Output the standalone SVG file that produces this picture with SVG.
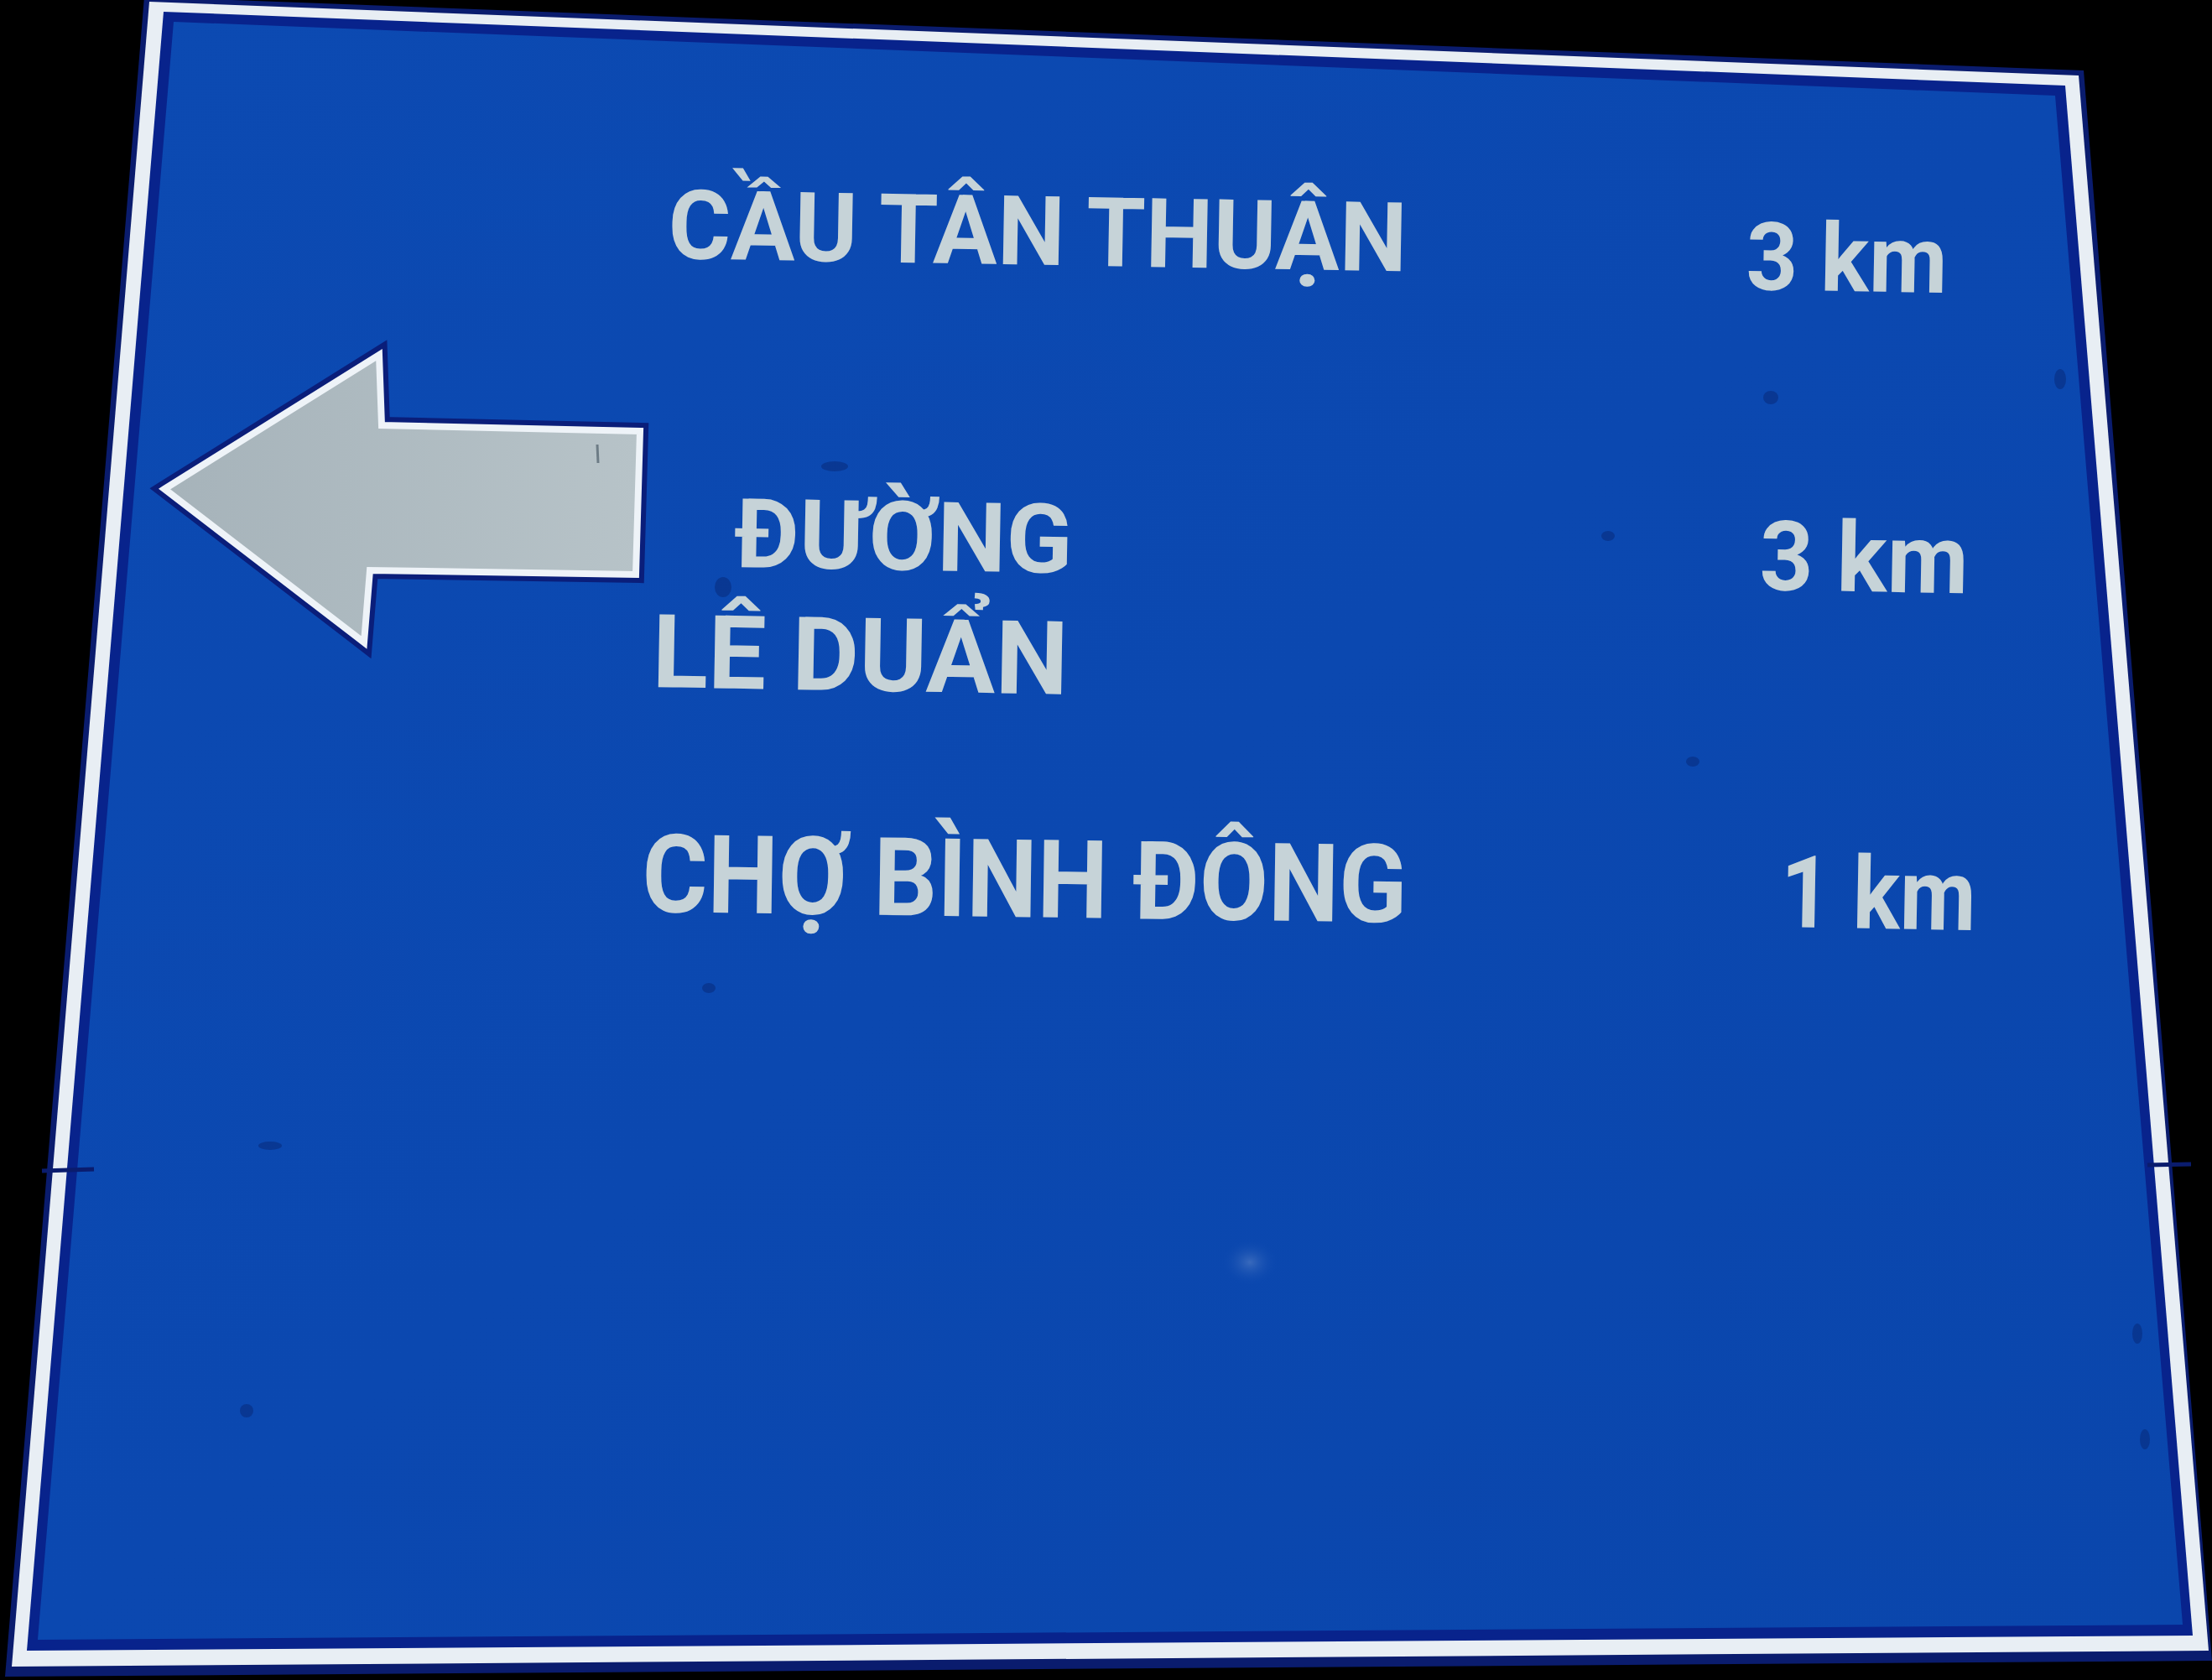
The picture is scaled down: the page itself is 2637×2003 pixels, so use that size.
<svg xmlns="http://www.w3.org/2000/svg" width="2637" height="2003" viewBox="0 0 2637 2003">
  <defs>
    <style>
      .lbl { font-family: Roboto, "Liberation Sans", "Noto Sans", sans-serif; font-weight: 700; fill: #c6d3d8; }
      .mark { fill: #06236e; opacity: 0.45; }
    </style>
    <linearGradient id="arrowFill" x1="0" y1="0" x2="1" y2="0">
      <stop offset="0" stop-color="#a6b3ba"/>
      <stop offset="1" stop-color="#b7c3c8"/>
    </linearGradient>
    <linearGradient id="field" x1="0" y1="0" x2="1" y2="1">
      <stop offset="0" stop-color="#0c4ab2"/>
      <stop offset="0.5" stop-color="#0b48b0"/>
      <stop offset="1" stop-color="#0a46ac"/>
    </linearGradient>
    <radialGradient id="glare" cx="0.5" cy="0.5" r="0.5">
      <stop offset="0" stop-color="#5f86c8" stop-opacity="0.55"/>
      <stop offset="1" stop-color="#0b48b0" stop-opacity="0"/>
    </radialGradient>
  </defs>

  <rect x="0" y="0" width="2637" height="2003" fill="#000000"/>

  <g id="sign-frame">
    <polygon points="172,-4 2484,84 2637,1980 6,1999" fill="#0a1c6e"/>
    <polygon points="178,2 2478,90 2633,1968 14,1987" fill="#e8eef4"/>
    <polygon points="195,14 2462,102 2614,1950 32,1968" fill="#08238c"/>
    <polygon points="207,26 2450,114 2602,1937 45,1955" fill="url(#field)"/>
    <!-- panel seam ticks on the border -->
    <path d="M50,1396 L112,1394 M2560,1389 L2612,1388" stroke="#0a1c6e" stroke-width="5" fill="none"/>
  </g>

  <g id="surface-marks">
    <ellipse cx="1490" cy="1505" rx="34" ry="28" fill="url(#glare)"/>
    <ellipse class="mark" cx="995" cy="556" rx="16" ry="6"/>
    <ellipse class="mark" cx="322" cy="1366" rx="14" ry="5"/>
    <ellipse class="mark" cx="294" cy="1682" rx="8" ry="8"/>
    <ellipse class="mark" cx="2111" cy="474" rx="9" ry="8"/>
    <ellipse class="mark" cx="2456" cy="452" rx="7" ry="12"/>
    <ellipse class="mark" cx="2548" cy="1590" rx="6" ry="12"/>
    <ellipse class="mark" cx="2557" cy="1716" rx="6" ry="12"/>
    <ellipse class="mark" cx="862" cy="700" rx="10" ry="12"/>
    <ellipse class="mark" cx="2018" cy="908" rx="8" ry="6"/>
    <ellipse class="mark" cx="1917" cy="639" rx="8" ry="6"/>
    <ellipse class="mark" cx="845" cy="1178" rx="8" ry="6"/>
  </g>

  <g id="arrow">
    <polygon points="196,583 452,423 455,507 763,514 758,685 441,680 434,766" fill="none" stroke="#0a1e7a" stroke-width="20" stroke-linejoin="miter"/>
    <polygon points="196,583 452,423 455,507 763,514 758,685 441,680 434,766" fill="url(#arrowFill)" stroke="#eef3f8" stroke-width="8" stroke-linejoin="miter"/>
    <path d="M712,530 L713,552" stroke="#6d7c86" stroke-width="3"/>
  </g>

  <g id="destination-1">
    <text class="lbl" x="796" y="308" font-size="115" textLength="881" lengthAdjust="spacingAndGlyphs" transform="rotate(1 796 308)">CẦU TÂN THUẬN</text>
    <text class="lbl" x="2081" y="345" font-size="113" textLength="240" lengthAdjust="spacingAndGlyphs" transform="rotate(1 2081 345)">3 km</text>
  </g>

  <g id="destination-2">
    <text class="lbl" x="875" y="676" font-size="115" textLength="403" lengthAdjust="spacingAndGlyphs" transform="rotate(1 875 676)">ĐƯỜNG</text>
    <text class="lbl" x="777" y="819" font-size="122" textLength="496" lengthAdjust="spacingAndGlyphs" transform="rotate(1 777 819)">LÊ DUẨN</text>
    <text class="lbl" x="2097" y="703" font-size="116" textLength="249" lengthAdjust="spacingAndGlyphs" transform="rotate(1 2097 703)">3 km</text>
  </g>

  <g id="destination-3">
    <text class="lbl" x="765" y="1087" font-size="130" textLength="912" lengthAdjust="spacingAndGlyphs" transform="rotate(0.8 765 1087)">CHỢ BÌNH ĐÔNG</text>
    <text class="lbl" x="2122" y="1105" font-size="120" textLength="233" lengthAdjust="spacingAndGlyphs" transform="rotate(1 2122 1105)">1 km</text>
  </g>
</svg>
